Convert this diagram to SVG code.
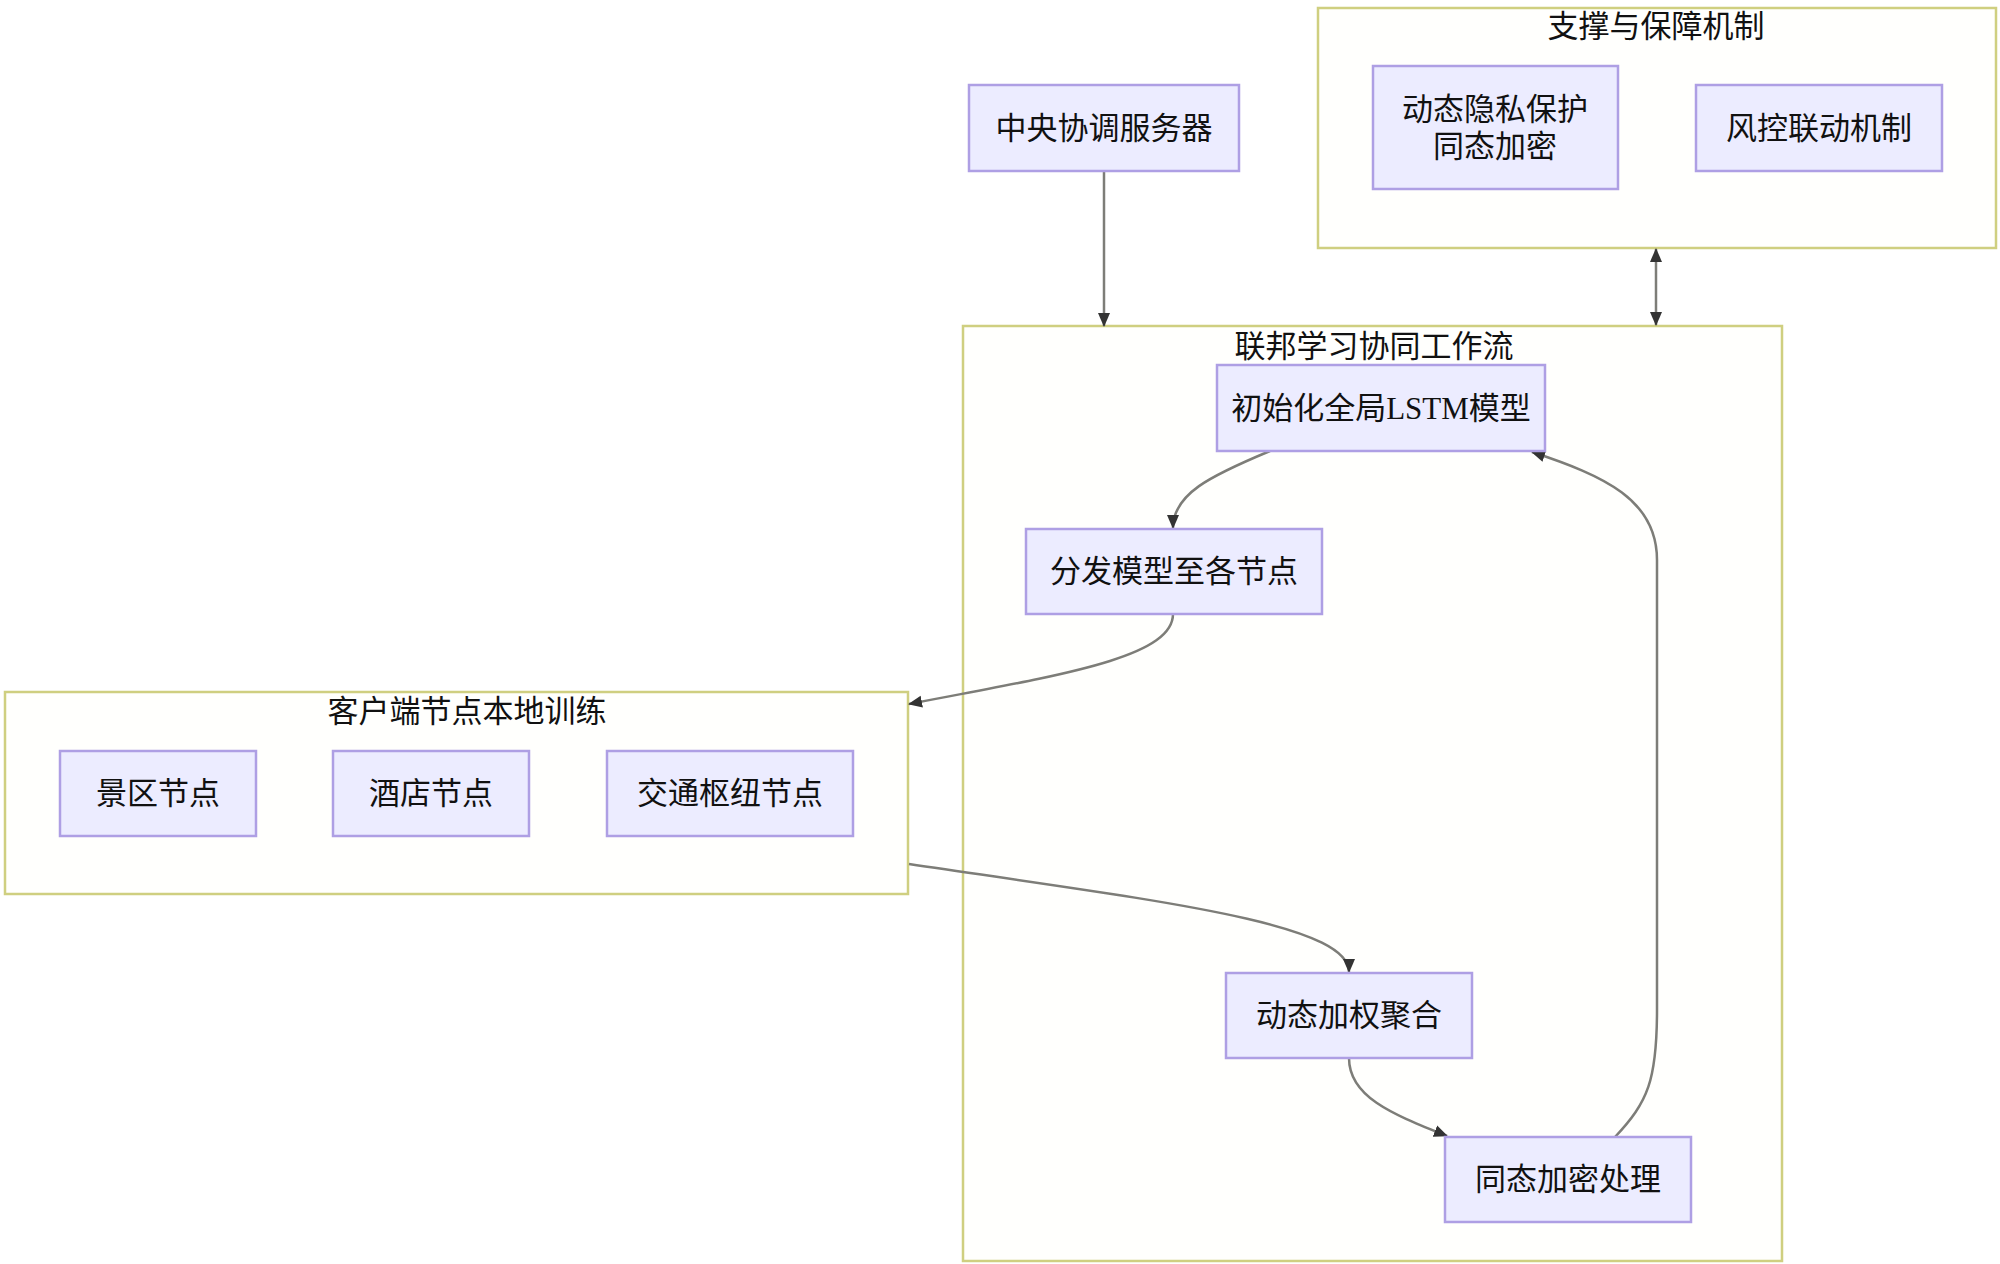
<svg xmlns="http://www.w3.org/2000/svg" width="2000" height="1264" viewBox="0 0 2000 1264">
<style>
.cluster{fill:#fffffd;stroke:#cfcf80;stroke-width:2.5}
.node rect{fill:#ececff;stroke:#ae9fe4;stroke-width:2.5}
text{font-family:"Liberation Serif","Noto Sans CJK SC",serif;font-size:31px;fill:#111;text-anchor:middle;dominant-baseline:central}
.edge{fill:none;stroke:#7d7d78;stroke-width:2.5}
</style>
<defs>
<marker id="arr" markerUnits="userSpaceOnUse" markerWidth="14" markerHeight="14" viewBox="0 0 14 14" refX="13" refY="7" orient="auto">
<path d="M0,1 L14,7 L0,13 Z" fill="#333"/>
</marker>
<marker id="arrS" markerUnits="userSpaceOnUse" markerWidth="14" markerHeight="14" viewBox="0 0 14 14" refX="1" refY="7" orient="auto">
<path d="M14,1 L0,7 L14,13 Z" fill="#333"/>
</marker>
</defs>
<rect width="2000" height="1264" fill="#fff"/>
<g id="cluster-support">
<rect class="cluster" x="1318" y="8" width="678" height="240"/>
<text x="1656" y="26">支撑与保障机制</text>
</g>
<g id="cluster-federated">
<rect class="cluster" x="963" y="326" width="819" height="935"/>
<text x="1374" y="346">联邦学习协同工作流</text>
</g>
<g id="cluster-client">
<rect class="cluster" x="5" y="692" width="903" height="202"/>
<text x="467" y="711">客户端节点本地训练</text>
</g>
<g id="edges">
<path class="edge" d="M1104,171 L1104,326" marker-end="url(#arr)"/>
<path class="edge" d="M1656,249 L1656,325" marker-start="url(#arrS)" marker-end="url(#arr)"/>
<path class="edge" d="M1270,451 C1210,476 1173,494 1173,528" marker-end="url(#arr)"/>
<path class="edge" d="M1173,614 C1173,658 1060,675 909,704" marker-end="url(#arr)"/>
<path class="edge" d="M909,864 C1150,900 1349,922 1349,972" marker-end="url(#arr)"/>
<path class="edge" d="M1349,1058 C1349,1098 1395,1115 1447,1136" marker-end="url(#arr)"/>
<path class="edge" d="M1615,1137 C1648,1102 1657,1080 1657,1010 L1657,560 C1657,500 1605,476 1532,452" marker-end="url(#arr)"/>
</g>
<g id="node-central" class="node">
<rect x="969" y="85" width="270" height="86"/>
<text x="1104" y="128">中央协调服务器</text>
</g>
<g id="node-privacy" class="node">
<rect x="1373" y="66" width="245" height="123"/>
<text x="1495" y="109">动态隐私保护</text>
<text x="1495" y="146">同态加密</text>
</g>
<g id="node-risk" class="node">
<rect x="1696" y="85" width="246" height="86"/>
<text x="1819" y="128">风控联动机制</text>
</g>
<g id="node-init" class="node">
<rect x="1217" y="365" width="328" height="86"/>
<text x="1381" y="408">初始化全局LSTM模型</text>
</g>
<g id="node-distribute" class="node">
<rect x="1026" y="529" width="296" height="85"/>
<text x="1174" y="571">分发模型至各节点</text>
</g>
<g id="node-scenic" class="node">
<rect x="60" y="751" width="196" height="85"/>
<text x="158" y="793">景区节点</text>
</g>
<g id="node-hotel" class="node">
<rect x="333" y="751" width="196" height="85"/>
<text x="431" y="793">酒店节点</text>
</g>
<g id="node-transport" class="node">
<rect x="607" y="751" width="246" height="85"/>
<text x="730" y="793">交通枢纽节点</text>
</g>
<g id="node-aggregate" class="node">
<rect x="1226" y="973" width="246" height="85"/>
<text x="1349" y="1015">动态加权聚合</text>
</g>
<g id="node-homo" class="node">
<rect x="1445" y="1137" width="246" height="85"/>
<text x="1568" y="1179">同态加密处理</text>
</g>
</svg>
